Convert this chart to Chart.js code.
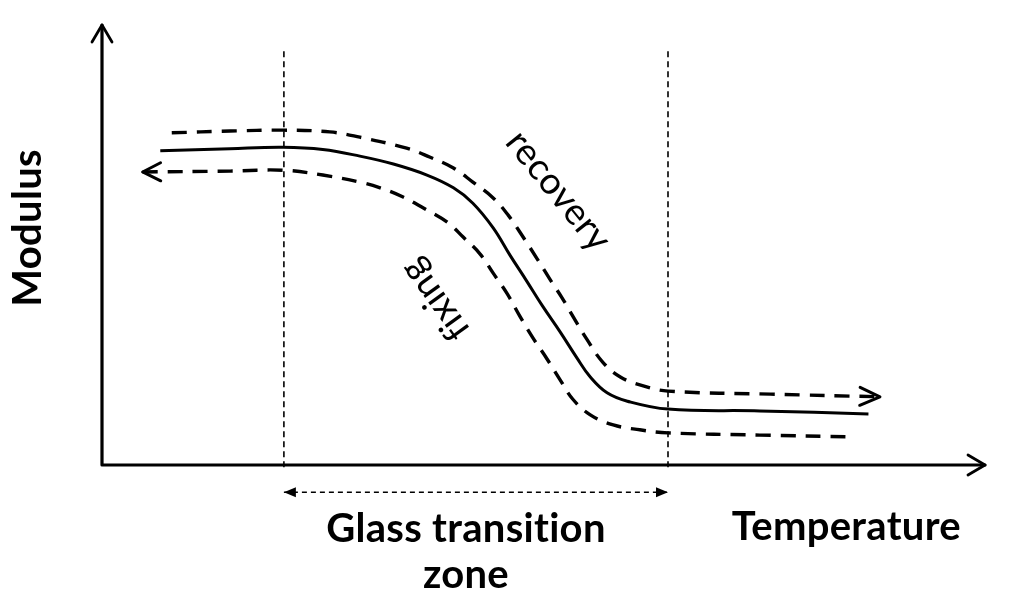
<!DOCTYPE html>
<html>
<head>
<meta charset="utf-8">
<script src="https://cdn.jsdelivr.net/npm/chart.js@4/dist/chart.umd.min.js"></script>
<style>
  html, body { margin: 0; padding: 0; background: #fff; }
  #chart { display: block; }
</style>
</head>
<body>
<canvas id="chart" width="1024" height="603"></canvas>
<script>
// schematic units: temperature 0..100 along x, modulus 0..100 along y
const modulusX = [6.6, 14.5, 20.5, 25.0, 29.2, 33.0, 36.8, 39.8, 42.0, 44.3, 46.2, 48.1, 49.9, 51.9, 53.8, 55.3, 57.2, 59.5, 64.1, 74.5, 86.8];
const modulusY = [71.4, 71.9, 72.2, 71.7, 70.2, 68.4, 65.9, 63.0, 59.5, 53.9, 47.7, 41.8, 36.1, 30.2, 24.3, 20.0, 16.4, 14.5, 12.7, 12.3, 11.6];

const recoveryX = [7.9, 14.5, 20.5, 25.8, 29.2, 34.5, 37.1, 39.8, 42.0, 44.3, 46.0, 47.3, 49.3, 50.7, 52.1, 53.3, 54.9, 56.7, 58.7, 61.3, 64.1, 75.7, 88.1];
const recoveryY = [75.5, 75.9, 76.1, 75.7, 74.5, 72.0, 70.0, 67.5, 64.3, 60.7, 56.8, 53.0, 46.8, 42.3, 38.0, 33.9, 28.6, 23.4, 20.0, 18.0, 16.8, 16.1, 15.5];

const fixingX = [4.6, 14.5, 20.5, 25.0, 29.2, 31.5, 34.1, 36.4, 39.1, 40.9, 42.8, 44.3, 45.9, 47.3, 48.8, 50.4, 51.9, 53.3, 55.3, 57.9, 60.9, 64.1, 74.5, 85.0];
const fixingY = [66.6, 66.8, 67.0, 65.9, 64.3, 63.0, 60.9, 58.4, 55.2, 51.8, 48.0, 43.6, 38.9, 33.9, 28.9, 24.1, 19.3, 15.0, 11.4, 9.1, 8.0, 7.3, 6.8, 6.4];

// glass transition zone bounds (temperature) and the extent of the guide lines
const zoneBounds = [20.6, 64.1];
const zoneLineSpan = [-0.5, 94.5];
const zoneArrowLevel = -6.2;

const axisTitleX = "Temperature";
const axisTitleY = "Modulus";
const zoneTitle = ["Glass transition", "zone"];
const recoveryLabel = "recovery";
const fixingLabel = "fixing";

const toPoints = (xs, ys) => xs.map((x, i) => ({ x: x, y: ys[i] }));

function openHead(ctx, tip, from, len, half) {
    const a = Math.atan2(tip.y - from.y, tip.x - from.x);
    ctx.beginPath();
    ctx.moveTo(tip.x - len * Math.cos(a) + half * Math.sin(a), tip.y - len * Math.sin(a) - half * Math.cos(a));
    ctx.lineTo(tip.x, tip.y);
    ctx.lineTo(tip.x - len * Math.cos(a) - half * Math.sin(a), tip.y - len * Math.sin(a) + half * Math.cos(a));
    ctx.stroke();
}

function filledHead(ctx, tip, from, len, half) {
    const a = Math.atan2(tip.y - from.y, tip.x - from.x);
    ctx.beginPath();
    ctx.moveTo(tip.x, tip.y);
    ctx.lineTo(tip.x - len * Math.cos(a) + half * Math.sin(a), tip.y - len * Math.sin(a) - half * Math.cos(a));
    ctx.lineTo(tip.x - len * Math.cos(a) - half * Math.sin(a), tip.y - len * Math.sin(a) + half * Math.cos(a));
    ctx.closePath();
    ctx.fill();
}

function fitFont(ctx, text, weight, width) {
    ctx.font = weight + " 100px Lato";
    const size = 100 * width / ctx.measureText(text).width;
    return weight + " " + size.toFixed(1) + "px Lato";
}

function drawText(ctx, text, x, y, angle, baseline) {
    ctx.save();
    ctx.translate(x, y);
    ctx.rotate(angle * Math.PI / 180);
    ctx.textAlign = "center";
    ctx.textBaseline = baseline;
    ctx.fillText(text, 0, 0);
    ctx.restore();
}

const sketchPlugin = {
    id: "sketch",
    afterDatasetsDraw(chart) {
        const ctx = chart.ctx;
        const { left, right, top, bottom } = chart.chartArea;
        const sx = chart.scales.x;
        const sy = chart.scales.y;

        ctx.save();
        ctx.strokeStyle = "#000";
        ctx.fillStyle = "#000";
        ctx.lineCap = "round";
        ctx.lineJoin = "round";

        // axes with arrows
        ctx.lineWidth = 3.2;
        ctx.beginPath();
        ctx.moveTo(left, bottom);
        ctx.lineTo(left, top);
        ctx.moveTo(left, bottom);
        ctx.lineTo(right, bottom);
        ctx.stroke();
        ctx.lineWidth = 2.8;
        openHead(ctx, { x: left, y: top }, { x: left, y: bottom }, 17, 10);
        openHead(ctx, { x: right, y: bottom }, { x: left, y: bottom }, 17, 10);

        // recovery arrow at its end, fixing arrow at its start
        const rec = chart.getDatasetMeta(1).data;
        const fix = chart.getDatasetMeta(2).data;
        ctx.lineWidth = 3;
        openHead(ctx, rec[rec.length - 1], rec[rec.length - 2], 20, 9);
        openHead(ctx, fix[0], fix[1], 18, 9);

        // zone double arrow heads
        const zone = chart.getDatasetMeta(5).data;
        filledHead(ctx, zone[0], zone[1], 12, 5);
        filledHead(ctx, zone[1], zone[0], 12, 5);

        // texts (letter spacing keeps the "ti" pair from turning into a ligature)
        ctx.letterSpacing = "0.3px";
        const bold = fitFont(ctx, zoneTitle[0], "bold", 277);
        const zoneMid = sx.getPixelForValue((zoneBounds[0] + zoneBounds[1]) / 2) - 10;
        ctx.font = bold;
        drawText(ctx, zoneTitle[0], zoneMid, sy.getPixelForValue(-17.5), 0, "alphabetic");
        drawText(ctx, zoneTitle[1], zoneMid, sy.getPixelForValue(-28.0), 0, "alphabetic");
        drawText(ctx, axisTitleX, sx.getPixelForValue(84.3), sy.getPixelForValue(-17.0), 0, "alphabetic");
        drawText(ctx, axisTitleY, sx.getPixelForValue(-8.4), sy.getPixelForValue(53.9), -90, "middle");

        const regular = fitFont(ctx, recoveryLabel, "normal", 142);
        ctx.font = regular;
        drawText(ctx, recoveryLabel, sx.getPixelForValue(51.7), sy.getPixelForValue(62.3), 51, "middle");
        drawText(ctx, fixingLabel, sx.getPixelForValue(37.7), sy.getPixelForValue(37.5), 234, "middle");

        ctx.restore();
    }
};

new Chart(document.getElementById("chart"), {
    type: "scatter",
    data: {
        datasets: [{
            label: "Modulus",
            data: toPoints(modulusX, modulusY),
            borderColor: "#000",
            borderWidth: 3,
            tension: 0.4
        }, {
            label: "recovery",
            data: toPoints(recoveryX, recoveryY),
            borderColor: "#000",
            borderWidth: 3.4,
            borderDash: [15, 10],
            tension: 0.4
        }, {
            label: "fixing",
            data: toPoints(fixingX, fixingY),
            borderColor: "#000",
            borderWidth: 3.4,
            borderDash: [15, 10],
            tension: 0.4
        }, {
            label: "zone start",
            data: toPoints([zoneBounds[0], zoneBounds[0]], zoneLineSpan),
            borderColor: "#000",
            borderWidth: 1.6,
            borderDash: [6, 4]
        }, {
            label: "zone end",
            data: toPoints([zoneBounds[1], zoneBounds[1]], zoneLineSpan),
            borderColor: "#000",
            borderWidth: 1.6,
            borderDash: [6, 4]
        }, {
            label: "zone width",
            data: toPoints(zoneBounds, [zoneArrowLevel, zoneArrowLevel]),
            borderColor: "#000",
            borderWidth: 1.6,
            borderDash: [5, 4]
        }].map(ds => ({ ...ds, showLine: true, pointRadius: 0, pointHoverRadius: 0, fill: false, clip: false }))
    },
    options: {
        responsive: false,
        animation: false,
        devicePixelRatio: 1,
        layout: {
            padding: { left: 102, right: 39, top: 25, bottom: 138 }
        },
        plugins: {
            legend: { display: false },
            tooltip: { enabled: false }
        },
        scales: {
            x: { type: "linear", min: 0, max: 100, display: false },
            y: { type: "linear", min: 0, max: 100, display: false }
        }
    },
    plugins: [sketchPlugin]
});
</script>
</body>
</html>
